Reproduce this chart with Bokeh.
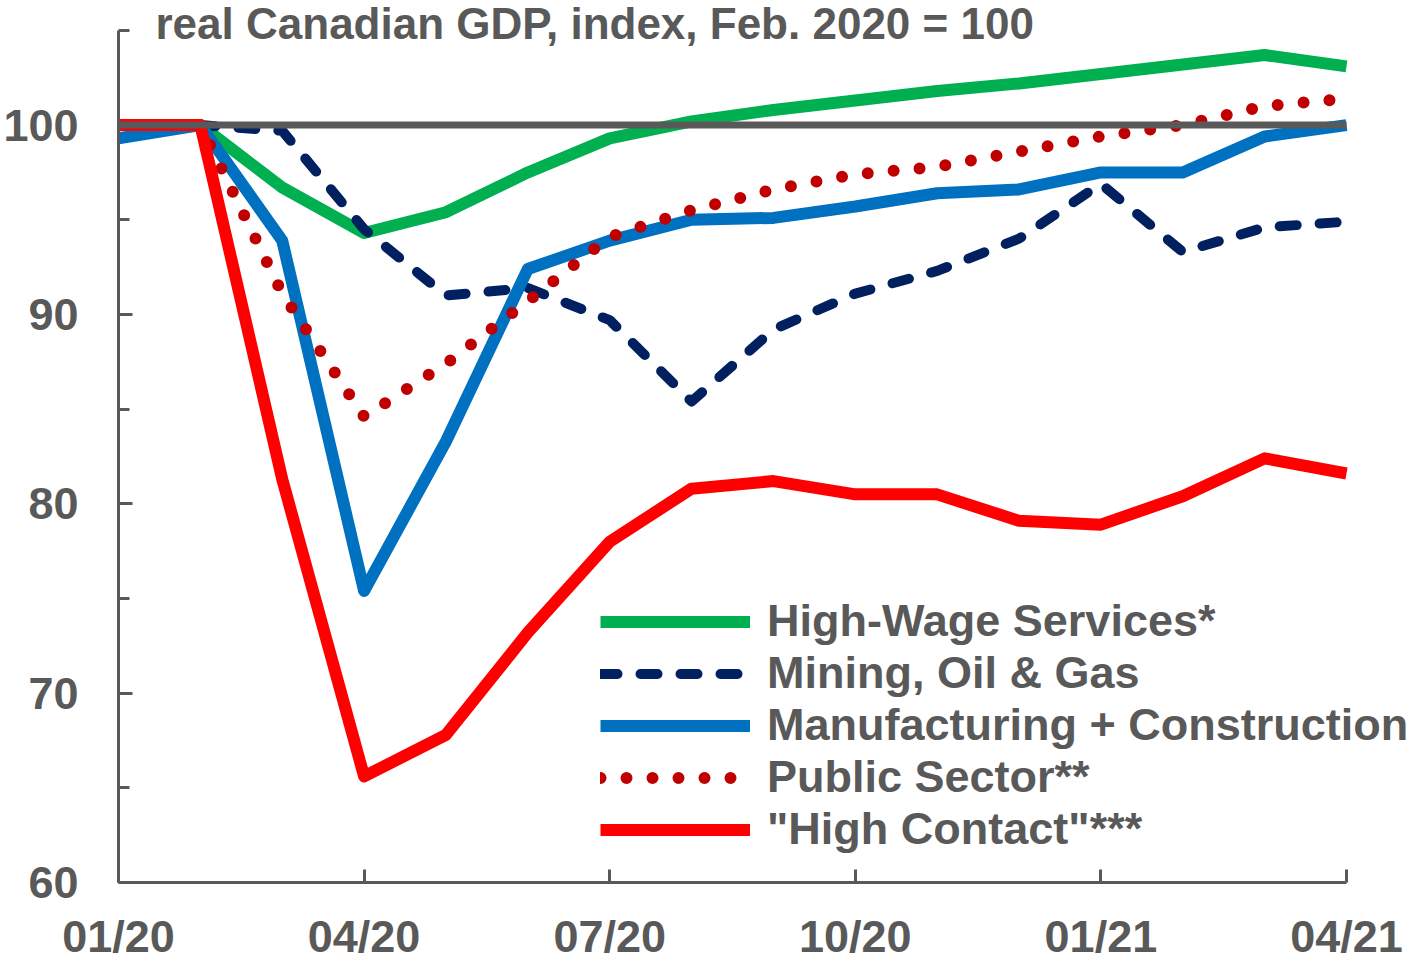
from bokeh.plotting import figure
from bokeh.models import FixedTicker, Label, Legend, LegendItem, Range1d
from bokeh.embed import file_html
from bokeh.resources import INLINE

# ---- data ----
months = ["01/20", "02/20", "03/20", "04/20", "05/20", "06/20", "07/20", "08/20",
          "09/20", "10/20", "11/20", "12/20", "01/21", "02/21", "03/21", "04/21"]
high_wage = [100.0, 100.0, 96.7, 94.3, 95.4, 97.5, 99.3, 100.2,
             100.8, 101.3, 101.8, 102.2, 102.7, 103.2, 103.7, 103.1]
mining = [100.0, 100.0, 99.7, 94.5, 91.0, 91.4, 89.7, 85.4,
          89.2, 91.1, 92.3, 94.0, 96.9, 93.3, 94.6, 94.9]
manuf_constr = [99.3, 100.0, 93.9, 75.4, 83.3, 92.4, 93.9, 95.0,
                95.1, 95.7, 96.4, 96.6, 97.5, 97.5, 99.4, 100.0]
public_sector = [100.0, 100.0, 91.1, 84.6, 87.4, 90.7, 94.1, 95.5,
                 96.6, 97.4, 97.8, 98.6, 99.4, 100.0, 101.0, 101.4]
high_contact = [100.0, 100.0, 81.3, 65.6, 67.8, 73.2, 78.0, 80.8,
                81.2, 80.5, 80.5, 79.1, 78.9, 80.4, 82.4, 81.6]
series_labels = ["High-Wage Services*", "Mining, Oil & Gas", "Manufacturing + Construction",
                 "Public Sector**", "\"High Contact\"***"]
x_tick_labels = ["01/20", "04/20", "07/20", "10/20", "01/21", "04/21"]
y_ticks = [60, 70, 80, 90, 100]
y_minor_ticks = [65, 75, 85, 95, 105]
y_axis_min, y_axis_max = 60, 105
reference_level = 100
title_text = "real Canadian GDP, index, Feb. 2020 = 100"

GRAY = "#595959"
FONT = "Liberation Sans"
FS = "45px"

x = list(range(len(months)))

# layout (pixels)
W, H = 1414, 964
LEFT, BOTTOM = 118, 80
AX_RIGHT_PX = 1346   # x pixel of last month
AX_TOP_PX = 30       # y pixel of 105
frame_w = W - LEFT
frame_h = H - BOTTOM
px_per_month = (AX_RIGHT_PX - LEFT) / (len(months) - 1)
px_per_unit = (H - BOTTOM - AX_TOP_PX) / (y_axis_max - y_axis_min)
x_end = frame_w / px_per_month
y_end = y_axis_min + frame_h / px_per_unit

p = figure(width=W, height=H, output_backend="svg", toolbar_location=None,
           x_range=Range1d(0, x_end), y_range=Range1d(y_axis_min, y_end),
           min_border_left=LEFT, min_border_right=0, min_border_top=0,
           min_border_bottom=BOTTOM)
p.outline_line_color = None
p.xgrid.visible = False
p.ygrid.visible = False
p.background_fill_color = "white"
p.border_fill_color = "white"

# y axis
ya = p.yaxis[0]
ya.ticker = FixedTicker(ticks=y_ticks, minor_ticks=y_minor_ticks)
ya.bounds = (y_axis_min, y_axis_max)
ya.axis_line_color = GRAY
ya.axis_line_width = 3
ya.major_tick_line_color = GRAY
ya.major_tick_line_width = 3
ya.minor_tick_line_color = GRAY
ya.minor_tick_line_width = 3
ya.major_tick_in = 14
ya.major_tick_out = 0
ya.minor_tick_in = 11
ya.minor_tick_out = 0
ya.major_label_standoff = 40
ya.major_label_text_font = FONT
ya.major_label_text_font_style = "bold"
ya.major_label_text_font_size = FS
ya.major_label_text_color = GRAY

# x axis
xa = p.xaxis[0]
tick_pos = [months.index(l) for l in x_tick_labels]
xa.ticker = FixedTicker(ticks=tick_pos)
xa.bounds = (0, len(months) - 1)
xa.major_label_overrides = {i: l for i, l in zip(tick_pos, x_tick_labels)}
xa.axis_line_color = GRAY
xa.axis_line_width = 3
xa.major_tick_line_color = GRAY
xa.major_tick_line_width = 3
xa.major_tick_in = 13
xa.major_tick_out = 0
xa.minor_tick_line_color = None
xa.major_label_standoff = 28
xa.major_label_text_font = FONT
xa.major_label_text_font_style = "bold"
xa.major_label_text_font_size = FS
xa.major_label_text_color = GRAY

# series
r1 = p.line(x, high_wage, line_color="#00B050", line_width=12, line_join="round", line_cap="butt")
r2 = p.line(x, mining, line_color="#002060", line_width=10, line_join="round", line_cap="round",
            line_dash="17 23")
r3 = p.line(x, manuf_constr, line_color="#0070C0", line_width=12, line_join="round", line_cap="butt")
r4 = p.line(x, public_sector, line_color="#C00000", line_width=12, line_join="round", line_cap="round",
            line_dash="0 26")
r5 = p.line(x, high_contact, line_color="#FF0000", line_width=12, line_join="round", line_cap="butt")

# reference line at 100 across the data span
p.segment(x0=[x[0]], x1=[x[-1]], y0=[reference_level], y1=[reference_level],
          line_color=GRAY, line_width=7)

legend = Legend(items=[LegendItem(label=lab, renderers=[r]) for lab, r in
                       zip(series_labels, [r1, r2, r3, r4, r5])],
                location=(482, 27), orientation="vertical",
                glyph_width=150, glyph_height=51, label_height=51, spacing=0,
                padding=0, margin=0, label_standoff=17,
                label_text_font=FONT, label_text_font_style="bold",
                label_text_font_size=FS, label_text_color=GRAY,
                border_line_color=None, background_fill_alpha=0)
p.add_layout(legend)

p.add_layout(Label(x=37, y=frame_h - 25, x_units="screen", y_units="screen", text=title_text,
                   text_font=FONT, text_font_style="bold", text_font_size="44px",
                   text_color=GRAY, text_baseline="alphabetic"))

open("out.html", "w").write(file_html(p, INLINE))
